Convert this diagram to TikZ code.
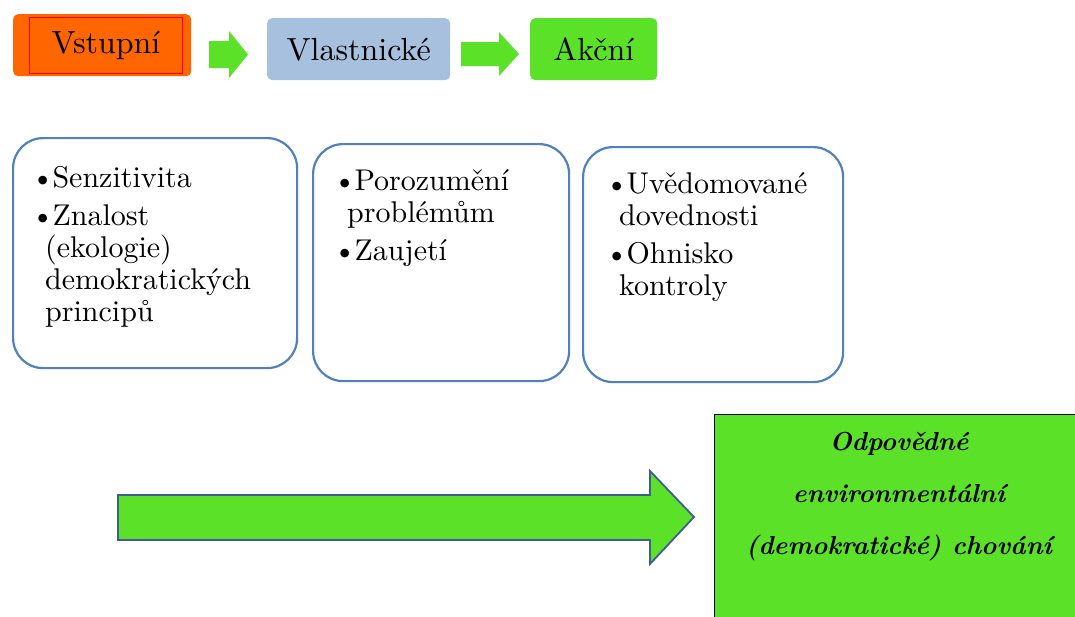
\documentclass[tikz,border=0pt]{standalone}
\usepackage{fontspec}
\setmainfont{lmroman10}[Extension=.otf, UprightFont=*-regular, BoldFont=*-bold,
  ItalicFont=*-italic, BoldItalicFont=*-bolditalic]
\usepackage{tikz}
\usetikzlibrary{positioning}
\definecolor{stageorange}{RGB}{255,102,0}
\definecolor{stageblue}{RGB}{167,192,222}
\definecolor{stagegreen}{RGB}{91,226,40}
\definecolor{panelblue}{RGB}{79,129,189}
\definecolor{arrowedge}{RGB}{62,92,150}

\tikzset{
  stage/.style={rounded corners=5pt, minimum height=62pt, anchor=north west,
    inner sep=0pt, font=\fontsize{32}{34}\selectfont},
  panel/.style={draw=panelblue, line width=2.2pt, rounded corners=30pt,
    anchor=north west, inner sep=0pt},
  paneltext/.style={align=left, inner sep=0pt, font=\fontsize{30}{32}\selectfont},
  blockarrow/.style={fill=stagegreen},
}
\newcommand{\bul}{\textbullet\hspace{-2pt}}
\newcommand{\cont}{\hspace*{14pt}}

\begin{document}
\begin{tikzpicture}[x=1pt, y=-1pt]
  \useasboundingbox (0,0) rectangle (1075,616);
  % the three stages
  \node[stage, fill=stageorange, minimum width=178pt] (entry) at (13,14) {};
  \node[draw=red, line width=1pt, minimum width=153pt, minimum height=56pt,
        anchor=north west, inner sep=0pt, font=\fontsize{32}{34}\selectfont]
        (entrylabel) at (29,17) {Vstupní};
  \node[stage, fill=stageblue, minimum width=183pt] (owner) at (267,18) {Vlastnické};
  \node[stage, fill=stagegreen, minimum width=127pt] (action) at (530,18) {Akční};
  % small arrows between the stages
  \fill[blockarrow] (209,41) -- (229,41) -- (229,31) -- (248,54.5) -- (229,78)
        -- (229,68) -- (209,68) -- cycle;
  \fill[blockarrow] (461,42) -- (499,42) -- (499,32) -- (519,54) -- (499,76)
        -- (499,66) -- (461,66) -- cycle;
  % panels with the components
  \node[panel, minimum width=284pt, minimum height=230pt] (entrybox) at (12,137) {};
  \node[paneltext, below right=29pt and 19pt of entrybox.north west] (entrytext)
    {\bul Senzitivita\\[6pt]
     \bul Znalost\\
     \cont(ekologie)\\
     \cont demokratických\\
     \cont principů};
  \node[panel, minimum width=256pt, minimum height=237pt] (ownerbox) at (312,143) {};
  \node[paneltext, below right=26pt and 21pt of ownerbox.north west] (ownertext)
    {\bul Porozumění\\
     \cont problémům\\[6pt]
     \bul Zaujetí};
  \node[panel, minimum width=260pt, minimum height=235pt] (actionbox) at (582,146) {};
  \node[paneltext, below right=26pt and 23pt of actionbox.north west] (actiontext)
    {\bul Uvědomované\\
     \cont dovednosti\\[6pt]
     \bul Ohnisko\\
     \cont kontroly};
  % big arrow to the outcome
  \filldraw[blockarrow, draw=arrowedge, line width=1.8pt, line join=miter]
        (118,495) -- (650,495) -- (650,471) -- (694,517) -- (650,564)
        -- (650,540) -- (118,540) -- cycle;
  % outcome
  \node[draw=black, line width=1.2pt, fill=stagegreen, anchor=north west,
        minimum width=380pt, minimum height=220pt] (outcome) at (714,414) {};
  \node[align=center, inner sep=0pt,
        font=\bfseries\itshape\fontsize{26}{52}\selectfont] (outcometext) at (899,497)
    {Odpovědné\\environmentální\\(demokratické) chování};
\end{tikzpicture}
\end{document}
